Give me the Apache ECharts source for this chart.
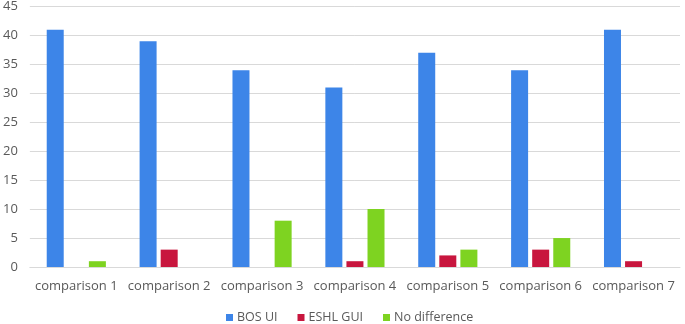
<!DOCTYPE html>
<html><head><meta charset="utf-8">
<script src="https://cdn.jsdelivr.net/npm/echarts@6/dist/echarts.min.js"></script>
<style>html,body{margin:0;padding:0;background:#fff}#c{width:685px;height:324px}</style>
</head><body><div id="c"></div>
<script>
const categories = ['comparison 1','comparison 2','comparison 3','comparison 4','comparison 5','comparison 6','comparison 7'];
const bosUI = [41, 39, 34, 31, 37, 34, 41];
const eshlGUI = [0, 3, 0, 1, 2, 3, 1];
const noDiff = [1, 0, 8, 10, 3, 5, 0];
const yTicks = {min: 0, max: 45, interval: 5};

const chart = echarts.init(document.getElementById('c'));
const font = 'Open Sans';
chart.setOption({
  animation: false,
  textStyle: {fontFamily: font},
  grid: {left: 29, right: 5, top: 6, bottom: 57, containLabel: false},
  legend: {
    bottom: -5, left: 221, itemWidth: 7, itemHeight: 7, itemGap: 20,
    icon: 'rect',
    textStyle: {color: '#595959', fontSize: 12.5, fontFamily: font, padding: [0,0,0,-1]},
    data: ['BOS UI','ESHL GUI','No difference']
  },
  xAxis: {
    type: 'category', data: categories,
    axisLine: {lineStyle: {color: '#d9d9d9'}},
    axisTick: {show: false},
    axisLabel: {color: '#595959', fontSize: 13, margin: 13, fontFamily: font, interval: 0}
  },
  yAxis: {
    type: 'value', min: yTicks.min, max: yTicks.max, interval: yTicks.interval,
    axisLine: {show: false}, axisTick: {show: false},
    splitLine: {lineStyle: {color: '#d9d9d9'}},
    axisLabel: {color: '#595959', fontSize: 13, margin: 12, fontFamily: font}
  },
  series: [
    {name: 'BOS UI', type: 'bar', data: bosUI, barWidth: 17, barGap: '24%', itemStyle: {color: '#3d85e8'}},
    {name: 'ESHL GUI', type: 'bar', data: eshlGUI, barWidth: 17, barGap: '24%', itemStyle: {color: '#c8163e'}},
    {name: 'No difference', type: 'bar', data: noDiff, barWidth: 17, barGap: '24%', itemStyle: {color: '#7ed321'}}
  ]
});
</script></body></html>
